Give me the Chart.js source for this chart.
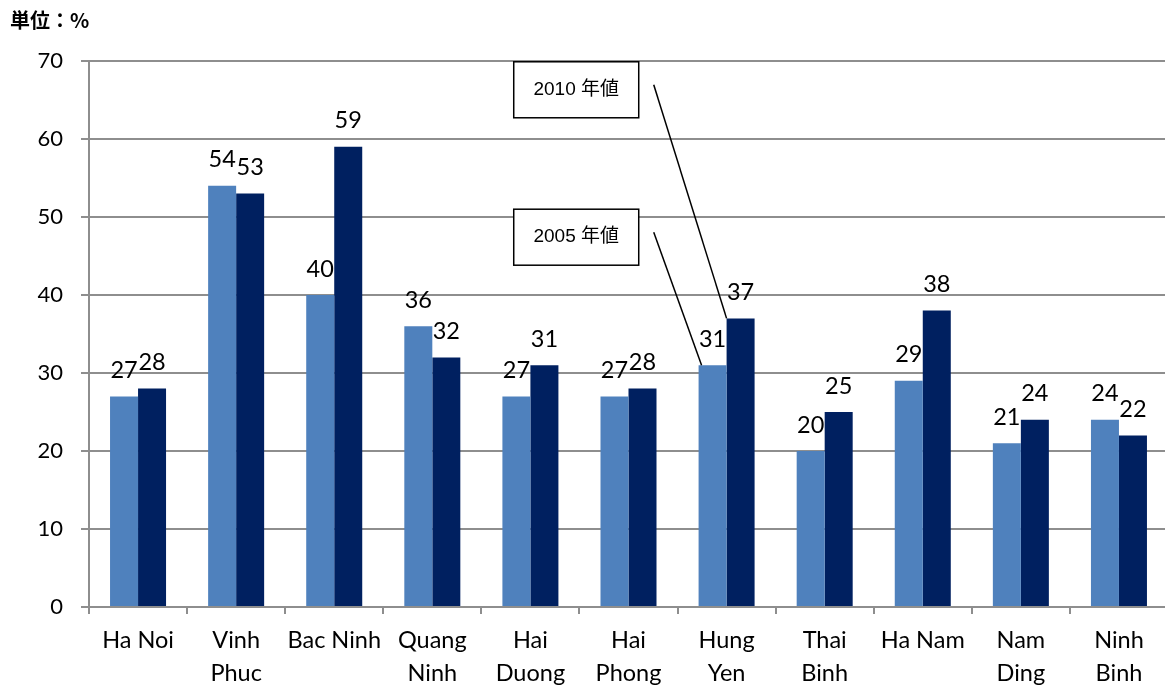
<!DOCTYPE html>
<html>
<head>
<meta charset="utf-8">
<script src="https://cdn.jsdelivr.net/npm/chart.js@4.4.1/dist/chart.umd.min.js"></script>
<style>
  body { margin: 0; background: #fff; overflow: hidden; }
  #wrap { width: 1168px; height: 686px; }
</style>
</head>
<body>
<div id="wrap"><canvas id="barChart"></canvas></div>
<script>
// categories and values
var provinces = ['Ha Noi', ['Vinh', 'Phuc'], 'Bac Ninh', ['Quang', 'Ninh'], ['Hai', 'Duong'], ['Hai', 'Phong'],
  ['Hung', 'Yen'], ['Thai', 'Binh'], 'Ha Nam', ['Nam', 'Ding'], ['Ninh', 'Binh']];
var values2005 = [27, 54, 40, 36, 27, 27, 31, 20, 29, 21, 24];
var values2010 = [28, 53, 59, 32, 31, 28, 37, 25, 38, 24, 22];
var yTicks = [0, 10, 20, 30, 40, 50, 60, 70];

// callouts: text, box left (category units), box top value, target dataset, target index
var callouts = [
  { text: '2010 年値', x: 3.83, y: 69.9, ds: 1, idx: 6, dx: 0 },
  { text: '2005 年値', x: 3.83, y: 51.0, ds: 0, idx: 6, dx: 3 }
];

var FONT = 'Lato, "Noto Sans", sans-serif';

var labelPlugin = {
  id: 'labels',
  afterDatasetsDraw: function(chart) {
    var ctx = chart.ctx;
    ctx.save();
    ctx.font = '23.5px ' + FONT;
    ctx.fillStyle = '#000';
    ctx.textAlign = 'center';
    ctx.textBaseline = 'middle';
    chart.data.datasets.forEach(function(ds, i) {
      chart.getDatasetMeta(i).data.forEach(function(bar, j) {
        ctx.fillText(ds.data[j], bar.x, bar.y - 26);
      });
    });

    var xs = chart.scales.x, ys = chart.scales.y;
    callouts.forEach(function(c) {
      var left = xs.getPixelForValue(c.x);
      var top = ys.getPixelForValue(c.y);
      var w = 125, h = 56;
      ctx.fillStyle = '#fff';
      ctx.fillRect(left, top, w, h);
      ctx.strokeStyle = '#000';
      ctx.lineWidth = 1.5;
      ctx.strokeRect(left, top, w, h);
      ctx.fillStyle = '#000';
      ctx.font = '19px "Liberation Sans", "Noto Sans CJK JP", sans-serif';
      ctx.fillText(c.text, left + w / 2, top + h / 2);
      var bar = chart.getDatasetMeta(c.ds).data[c.idx];
      ctx.beginPath();
      ctx.moveTo(left + w + 15, top + h / 2 - 5);
      ctx.lineTo(bar.x - bar.width / 2 + c.dx, bar.y);
      ctx.lineWidth = 1.5;
      ctx.stroke();
    });
    ctx.restore();
  }
};

new Chart(document.getElementById('barChart'), {
  type: 'bar',
  data: {
    labels: provinces,
    datasets: [{
      label: '2005',
      data: values2005,
      backgroundColor: '#4F81BD',
      categoryPercentage: 0.571,
      barPercentage: 1
    }, {
      label: '2010',
      data: values2010,
      backgroundColor: '#002060',
      categoryPercentage: 0.571,
      barPercentage: 1
    }]
  },
  options: {
    responsive: true,
    maintainAspectRatio: false,
    animation: false,
    layout: { padding: { left: 10, right: 0, top: 0, bottom: 0 } },
    plugins: {
      legend: { display: false },
      tooltip: { enabled: false },
      title: {
        display: true,
        text: '単位：%',
        align: 'start',
        color: '#000',
        font: { size: 20, weight: 'bold', family: '"Noto Sans CJK JP", sans-serif' },
        padding: { top: 8, bottom: 29 }
      }
    },
    scales: {
      y: {
        min: 0,
        max: 70,
        afterBuildTicks: function(axis) {
          axis.ticks = yTicks.map(function(v) { return { value: v }; });
        },
        afterFit: function(axis) { axis.width = 79; },
        ticks: { color: '#000', font: { size: 22, family: FONT }, padding: 18 },
        grid: { color: '#8e8e8e', lineWidth: 2, tickLength: 8 },
        border: { color: '#8e8e8e', width: 2 }
      },
      x: {
        offset: true,
        afterFit: function(axis) { axis.height = 79; },
        ticks: { color: '#000', font: { size: 23.5, family: FONT, lineHeight: 1.4 }, padding: 10, maxRotation: 0, autoSkip: false },
        grid: { drawOnChartArea: false, offset: true, color: '#8e8e8e', lineWidth: 2, tickLength: 7 },
        border: { color: '#8e8e8e', width: 2 }
      }
    }
  },
  plugins: [labelPlugin]
});
</script>
</body>
</html>
